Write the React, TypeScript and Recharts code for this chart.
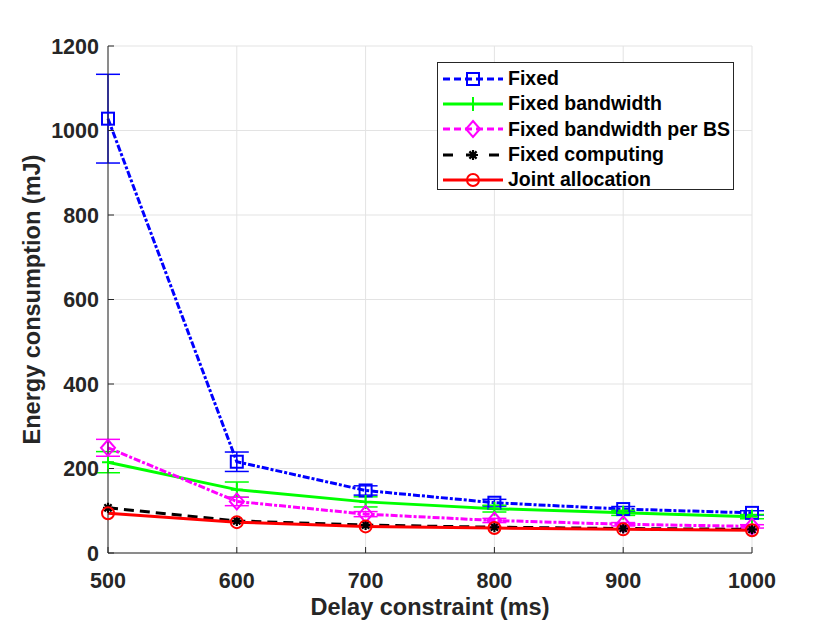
import React from "react";
import { LineChart, Line, XAxis, YAxis, CartesianGrid, ErrorBar } from "recharts";

const delays = [500, 600, 700, 800, 900, 1000];
const xTicks = [500, 600, 700, 800, 900, 1000];
const yTicks = [0, 200, 400, 600, 800, 1000, 1200];

const fixed = [1028, 216, 148, 119, 104, 95];
const fixedErr = [105, 23, 11, 8, 6, 5];
const fixedBw = [215, 150, 121, 105, 95, 86];
const fixedBwErr = [25, 18, 12, 8, 6, 5];
const fixedBwBs = [249, 122, 92, 77, 68, 63];
const fixedBwBsErr = [20, 10, 6, 5, 4, 4];
const fixedComp = [107, 76, 66, 61, 58, 56];
const joint = [94, 73, 63, 59, 56, 54];

const FONT = "'Liberation Sans', Arial, Helvetica, sans-serif";
const INK = "#262626";

const data = delays.map((d, i) => ({
  delay: d,
  fixed: fixed[i], fixedErr: fixedErr[i],
  fixedBw: fixedBw[i], fixedBwErr: fixedBwErr[i],
  fixedBwBs: fixedBwBs[i], fixedBwBsErr: fixedBwBsErr[i],
  fixedComp: fixedComp[i],
  joint: joint[i],
}));

// marker glyphs (MATLAB-ish)
function Marker({ shape, cx, cy, color }: { shape: string; cx: number; cy: number; color: string }) {
  switch (shape) {
    case "square":
      return <rect x={cx - 6} y={cy - 6} width={12} height={12} fill="none" stroke={color} strokeWidth={2} />;
    case "plus":
      return <path d={`M${cx - 6},${cy}H${cx + 6}M${cx},${cy - 7}V${cy + 7}`} stroke={color} strokeWidth={2} />;
    case "diamond":
      return <path d={`M${cx},${cy - 8}L${cx + 7},${cy}L${cx},${cy + 8}L${cx - 7},${cy}Z`} fill="none" stroke={color} strokeWidth={2} />;
    case "star":
      return (
        <path
          d={`M${cx - 5},${cy}H${cx + 5}M${cx},${cy - 5}V${cy + 5}M${cx - 3.6},${cy - 3.6}L${cx + 3.6},${cy + 3.6}M${cx - 3.6},${cy + 3.6}L${cx + 3.6},${cy - 3.6}`}
          stroke={color} strokeWidth={2.2}
        />
      );
    default:
      return <circle cx={cx} cy={cy} r={6} fill="none" stroke={color} strokeWidth={2} />;
  }
}

const dotOf = (shape: string, color: string) => (p: any) => {
  if (p.cx == null || p.cy == null) return <g key={p.index} />;
  return <g key={p.index}><Marker shape={shape} cx={p.cx} cy={p.cy} color={color} /></g>;
};

const series = [
  { key: "fixed", name: "Fixed", color: "#0000ff", dash: "7 2 3 2", legendDash: "7 4", shape: "square", err: "fixedErr" },
  { key: "fixedBw", name: "Fixed bandwidth", color: "#00ff00", dash: undefined, legendDash: undefined, shape: "plus", err: "fixedBwErr" },
  { key: "fixedBwBs", name: "Fixed bandwidth per BS", color: "#ff00ff", dash: "7 2 3 2", legendDash: "7 4", shape: "diamond", err: "fixedBwBsErr" },
  { key: "fixedComp", name: "Fixed computing", color: "#000000", dash: "10 6", legendDash: "10 13", shape: "star", err: undefined },
  { key: "joint", name: "Joint allocation", color: "#ff0000", dash: undefined, legendDash: undefined, shape: "circle", err: undefined },
];

const tickStyle = { fill: INK, fontSize: 21.5, fontWeight: 700, fontFamily: FONT };
const labelStyle = { fill: INK, fontSize: 23.5, fontWeight: 700, fontFamily: FONT };

function LegendBox() {
  return (
    <div style={{
      position: "absolute", left: 437, top: 62, width: 297, height: 128,
      background: "#fff", border: `1px solid ${INK}`, fontFamily: FONT,
      fontWeight: 700, fontSize: 19.5, color: "#000", paddingTop: 3, boxSizing: "border-box",
    }}>
      {series.map(s => (
        <div key={s.key} style={{ display: "flex", alignItems: "center", height: 25.3 }}>
          <svg width={70} height={24} style={{ flex: "none" }}>
            <line x1={5} y1={12} x2={65} y2={12} stroke={s.color} strokeWidth={3}
              strokeDasharray={s.legendDash} />
            <Marker shape={s.shape} cx={35} cy={12} color={s.color} />
          </svg>
          <span style={{ whiteSpace: "nowrap" }}>{s.name}</span>
        </div>
      ))}
    </div>
  );
}

export default function App() {
  return (
    <div style={{ position: "absolute", left: 0, top: 0, width: 830, height: 623, background: "#fff" }}>
      <LineChart width={830} height={623} data={data} margin={{ top: 46, right: 78, bottom: 0, left: 0 }}>
        <CartesianGrid stroke="#e3e3e3" strokeWidth={1} />
        <XAxis dataKey="delay" type="number" domain={[500, 1000]} ticks={xTicks} height={70}
          tick={tickStyle} tickSize={-6} tickMargin={26} stroke={INK}
          label={{ value: "Delay constraint (ms)", position: "insideBottom", offset: 8, style: labelStyle }} />
        <XAxis xAxisId="top" orientation="top" dataKey="delay" type="number" domain={[500, 1000]}
          ticks={xTicks} height={0} tick={false} tickSize={-6} stroke={INK} />
        <YAxis domain={[0, 1200]} ticks={yTicks} width={108} tick={tickStyle} tickSize={-6}
          tickMargin={15} stroke={INK}
          label={{ value: "Energy consumption (mJ)", angle: -90, position: "insideLeft", offset: 32,
            style: { ...labelStyle, textAnchor: "middle" } }} />
        <YAxis yAxisId="right" orientation="right" domain={[0, 1200]} ticks={yTicks} width={0}
          tick={false} tickSize={-6} stroke={INK} />
        {series.map(s => (
          <Line key={s.key} dataKey={s.key} type="linear" stroke={s.color} strokeWidth={3}
            strokeDasharray={s.dash} dot={dotOf(s.shape, s.color)} activeDot={false}
            isAnimationActive={false}>
            {s.err && (
              <ErrorBar dataKey={s.err} direction="y" width={12} stroke={s.color} strokeWidth={1.5}
                isAnimationActive={false} />
            )}
          </Line>
        ))}
      </LineChart>
      <LegendBox />
    </div>
  );
}
